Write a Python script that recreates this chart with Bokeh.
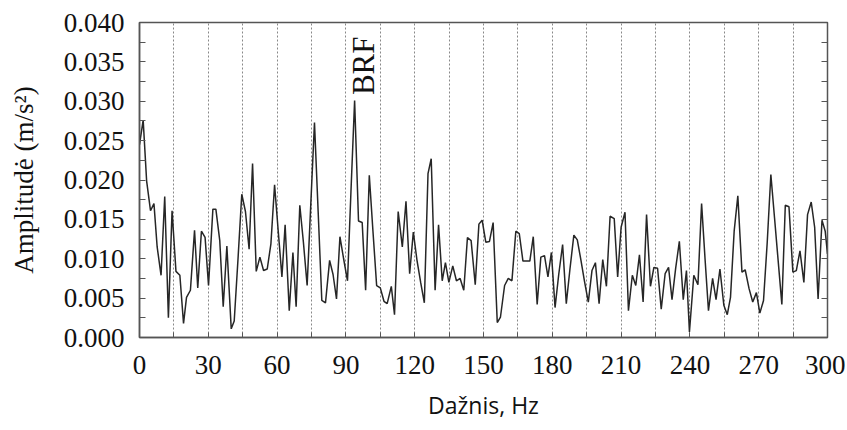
from bokeh.plotting import figure
from bokeh.models import (FixedTicker, NumeralTickFormatter, LinearAxis, Label, Range1d)
from bokeh.embed import file_html
from bokeh.resources import INLINE

# Frequency (Hz) and amplitude (m/s^2)
freq = [0.0, 1.6, 3.1, 4.8, 6.3, 7.7, 9.4, 11.0, 12.6, 14.2, 15.9, 17.6, 19.2, 20.5, 22.2,
        24.0, 25.4, 27.0, 28.6, 30.1, 32.0, 33.3, 35.0, 36.5, 38.1, 40.0, 41.3, 43.0, 44.6,
        46.2, 47.8, 49.3, 50.9, 52.5, 54.1, 55.7, 57.3, 58.9, 60.5, 62.1, 63.5, 65.3, 66.9,
        68.3, 69.9, 71.5, 73.1, 74.7, 76.3, 77.9, 79.5, 81.1, 82.9, 84.4, 85.9, 87.4, 89.0,
        90.7, 92.2, 93.8, 95.5, 97.1, 98.6, 100.2, 101.8, 103.4, 105.0, 106.6, 108.0, 109.8,
        111.2, 112.8, 114.6, 116.2, 117.8, 119.4, 121.0, 122.6, 124.2, 125.8, 127.2, 128.9,
        130.4, 132.0, 133.4, 134.9, 136.6, 138.2, 139.8, 141.4, 143.0, 144.6, 146.4, 148.0,
        149.4, 151.0, 152.6, 154.2, 156.0, 157.4, 159.2, 160.8, 162.4, 164.1, 165.6, 167.2,
        168.7, 170.2, 171.7, 173.4, 175.0, 176.6, 178.1, 179.6, 181.2, 182.8, 184.5, 186.1,
        187.7, 189.4, 190.9, 192.5, 194.0, 195.7, 197.3, 198.8, 200.4, 202.0, 203.6, 205.2,
        207.0, 208.5, 210.0, 211.7, 213.2, 214.9, 216.4, 218.0, 219.6, 221.1, 222.8, 224.3,
        225.9, 227.5, 229.2, 230.7, 232.2, 233.8, 235.4, 237.1, 238.5, 239.8, 241.7, 243.5,
        245.1, 246.6, 248.1, 249.9, 251.4, 253.1, 254.8, 256.3, 257.7, 259.3, 260.9, 262.7,
        264.1, 265.8, 267.4, 269.0, 270.5, 272.1, 273.7, 275.3, 276.9, 278.5, 280.1, 281.6,
        283.2, 284.9, 286.4, 288.0, 289.7, 291.3, 292.9, 294.4, 295.9, 297.6, 299.0, 300.0]

amp = [0.0245, 0.0276, 0.0199, 0.0161, 0.0170, 0.0115, 0.0079, 0.0179, 0.0025, 0.0161, 0.0084,
       0.0079, 0.0018, 0.0051, 0.0060, 0.0136, 0.0063, 0.0135, 0.0127, 0.0066, 0.0163, 0.0163,
       0.0123, 0.0039, 0.0116, 0.0011, 0.0021, 0.0102, 0.0182, 0.0160, 0.0112, 0.0221, 0.0084,
       0.0102, 0.0085, 0.0087, 0.0119, 0.0194, 0.0135, 0.0077, 0.0143, 0.0034, 0.0108, 0.0039,
       0.0168, 0.0120, 0.0066, 0.0170, 0.0273, 0.0160, 0.0047, 0.0044, 0.0098, 0.0080, 0.0049,
       0.0128, 0.0100, 0.0072, 0.0185, 0.0301, 0.0148, 0.0146, 0.0060, 0.0206, 0.0135, 0.0066,
       0.0063, 0.0046, 0.0043, 0.0065, 0.0029, 0.0160, 0.0115, 0.0173, 0.0081, 0.0134, 0.0098,
       0.0070, 0.0044, 0.0208, 0.0227, 0.0060, 0.0143, 0.0072, 0.0095, 0.0070, 0.0091, 0.0072,
       0.0075, 0.0060, 0.0127, 0.0123, 0.0067, 0.0144, 0.0149, 0.0121, 0.0122, 0.0146, 0.0019,
       0.0026, 0.0066, 0.0075, 0.0072, 0.0135, 0.0132, 0.0097, 0.0097, 0.0097, 0.0128, 0.0042,
       0.0102, 0.0104, 0.0077, 0.0108, 0.0038, 0.0080, 0.0118, 0.0043, 0.0087, 0.0130, 0.0124,
       0.0098, 0.0072, 0.0045, 0.0085, 0.0095, 0.0043, 0.0099, 0.0065, 0.0154, 0.0151, 0.0077,
       0.0140, 0.0159, 0.0034, 0.0079, 0.0066, 0.0105, 0.0045, 0.0156, 0.0065, 0.0089, 0.0088,
       0.0036, 0.0081, 0.0089, 0.0048, 0.0088, 0.0122, 0.0048, 0.0085, 0.0007, 0.0079, 0.0067,
       0.0170, 0.0100, 0.0034, 0.0075, 0.0048, 0.0087, 0.0041, 0.0029, 0.0051, 0.0135, 0.0180,
       0.0083, 0.0086, 0.0062, 0.0045, 0.0057, 0.0031, 0.0047, 0.0120, 0.0207, 0.0152, 0.0097,
       0.0042, 0.0168, 0.0166, 0.0083, 0.0085, 0.0110, 0.0070, 0.0156, 0.0172, 0.0140, 0.0049,
       0.0149, 0.0135, 0.0106]

x_ticks = [0, 30, 60, 90, 120, 150, 180, 210, 240, 270, 300]
x_minor = [15, 45, 75, 105, 135, 165, 195, 225, 255, 285]
grid_lines = [15, 30, 45, 60, 75, 90, 105, 120, 135, 150, 165, 180, 195, 210, 225, 240, 255, 270, 285]
y_ticks = [0.000, 0.005, 0.010, 0.015, 0.020, 0.025, 0.030, 0.035, 0.040]
y_minor = [0.0025, 0.0075, 0.0125, 0.0175, 0.0225, 0.0275, 0.0325, 0.0375]

peak_label = "BRF"
peak_x = 97.7
peak_y = 0.0345

SERIF = "Liberation Serif"
AXIS_COL = "#555555"
TEXT_COL = "#111111"

p = figure(output_backend="svg", toolbar_location=None,
           frame_width=688, frame_height=315,
           min_border_left=139, min_border_right=18, min_border_top=22, min_border_bottom=88,
           x_range=Range1d(0, 300), y_range=Range1d(0, 0.040),
           background_fill_color="white", border_fill_color="white")

p.outline_line_color = AXIS_COL
p.outline_line_width = 1.5

p.line(freq, amp, line_color="#262626", line_width=1.5)

# x axis
xa = p.xaxis[0]
xa.ticker = FixedTicker(ticks=x_ticks, minor_ticks=x_minor)
xa.major_label_text_font = SERIF
xa.major_label_text_font_size = "27px"
xa.major_label_text_color = TEXT_COL
xa.major_tick_in = 5
xa.major_tick_out = 0
xa.minor_tick_in = 5
xa.minor_tick_out = 0
xa.major_label_standoff = 18
xa.axis_line_color = AXIS_COL
xa.axis_line_width = 1.5
xa.major_tick_line_color = AXIS_COL
xa.minor_tick_line_color = AXIS_COL
xa.axis_label = "Dažnis, Hz"
xa.axis_label_text_font = "Open Sans"
xa.axis_label_text_font_size = "23px"
xa.axis_label_text_font_style = "normal"
xa.axis_label_text_color = TEXT_COL
xa.axis_label_standoff = 12

# y axis
ya = p.yaxis[0]
ya.ticker = FixedTicker(ticks=y_ticks, minor_ticks=y_minor)
ya.formatter = NumeralTickFormatter(format="0.000")
ya.major_label_text_font = SERIF
ya.major_label_text_font_size = "27px"
ya.major_label_text_color = TEXT_COL
ya.major_tick_in = 6
ya.major_tick_out = 0
ya.minor_tick_in = 6
ya.minor_tick_out = 0
ya.major_label_standoff = 15
ya.axis_label = "Amplitudė (m/s²)"
ya.axis_label_text_font = SERIF
ya.axis_label_text_font_size = "27px"
ya.axis_label_text_font_style = "normal"
ya.axis_label_text_color = TEXT_COL
ya.axis_label_standoff = 22
ya.axis_line_color = AXIS_COL
ya.axis_line_width = 1.5
ya.major_tick_line_color = AXIS_COL
ya.minor_tick_line_color = AXIS_COL

# mirrored right axis (ticks only, no labels)
ra = LinearAxis(ticker=FixedTicker(ticks=y_ticks, minor_ticks=y_minor))
ra.major_label_text_color = None
ra.major_label_standoff = 0
ra.major_tick_in = 6
ra.major_tick_out = 0
ra.minor_tick_in = 6
ra.minor_tick_out = 0
ra.axis_line_color = AXIS_COL
ra.major_tick_line_color = AXIS_COL
ra.minor_tick_line_color = AXIS_COL
p.add_layout(ra, "right")

# grid: dotted verticals every 15 Hz
p.xgrid.ticker = FixedTicker(ticks=grid_lines)
p.xgrid.grid_line_color = "#888888"
p.xgrid.grid_line_dash = "2 2"
p.xgrid.grid_line_width = 1
p.ygrid.grid_line_color = None

# BRF annotation
p.add_layout(Label(x=peak_x, y=peak_y, text=peak_label, text_font=SERIF,
                   text_font_size="31px", text_color=TEXT_COL, angle=1.5708,
                   text_align="center", text_baseline="middle"))

open("out.html", "w").write(file_html(p, INLINE))
